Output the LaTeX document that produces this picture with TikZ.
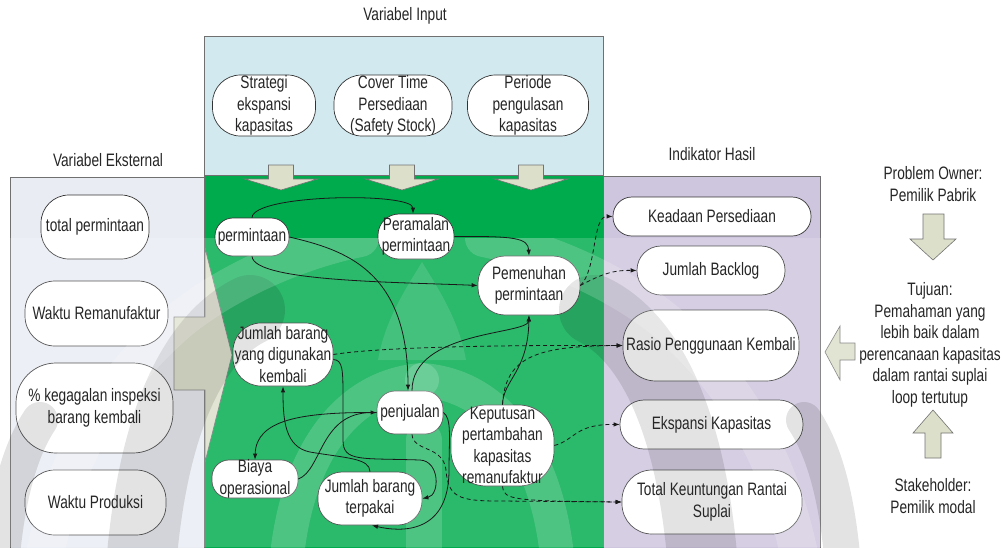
\documentclass[tikz,border=0pt]{standalone}
\usepackage{fontspec}
\setmainfont{Liberation Sans}[FakeStretch=0.76]
\usetikzlibrary{arrows.meta,calc}

\definecolor{inputbg}{HTML}{D2E9EF}
\definecolor{procbg}{HTML}{00AB4E}
\definecolor{extbg}{HTML}{E9ECF3}
\definecolor{outbg}{HTML}{CEC5DE}
\definecolor{blockfill}{HTML}{DCDFC9}
\definecolor{framegray}{HTML}{707070}

\tikzset{
  panel/.style={draw=framegray, line width=0.8pt},
  blockarrow/.style={draw=black!55, fill=blockfill, line width=0.6pt, line join=miter},
  pill/.style={draw=black!80, fill=white, line width=0.7pt, inner sep=0pt},
  txt/.style={font=\fontsize{18}{21.5}\selectfont, align=center, inner sep=0pt, text=black!85},
  link/.style={line width=0.8pt, draw=black!90, -{Latex[length=6pt,width=4.5pt]}},
  dlink/.style={link, dash pattern=on 4pt off 3pt},
  shade band/.style={draw=black, draw opacity=0.11, line width=#1, line cap=round},
  light band/.style={draw=white, draw opacity=0.17, line width=#1, line cap=round},
}

% rounded box: name, x, y, width, height, corner radius
\newcommand\mkpill[6]{%
  \node[pill, minimum width=#4, minimum height=#5, rounded corners=#6] (#1) at (#2,#3) {};}

% one half of the background emblem (the other half is its mirror image)
\newcommand\emblemhalf{%
  \draw[shade band=70] (140,580) .. controls (150,430) and (190,340) .. (250,310);
  \draw[light band=38] (40,580) .. controls (60,460) and (110,380) .. (180,320)
    .. controls (230,280) and (300,250) .. (360,238);
  \draw[shade band=36] (0,580) .. controls (5,500) and (20,450) .. (40,420);
  \draw[light band=34] (285,580) .. controls (292,450) and (350,385) .. (422,380);
}

\begin{document}
\begin{tikzpicture}[x=1pt,y=-1pt]
\useasboundingbox (0,0) rectangle (1003,547);
\clip (0,0) rectangle (1003,547);
\fill[white] (0,0) rectangle (1003,547);

% panels
\draw[panel, fill=inputbg] (204,36) rectangle (603,175);
\draw[panel, fill=extbg] (10,177) rectangle (204,560);
\draw[panel, fill=outbg] (603,176) rectangle (820,560);
\draw[panel, fill=procbg] (204,175) rectangle (603,560);

% panel titles
\node[txt] (tin) at (405,16) {Variabel Input};
\node[txt] (tex) at (108,160) {Variabel Eksternal};
\node[txt] (tout) at (712,154) {Indikator Hasil};

% input variables
\mkpill{str}{264}{105.5}{103}{61}{28}
\mkpill{cov}{393}{105.5}{118}{61}{28}
\mkpill{per}{528}{105.5}{121}{61}{28}

% input arrows into the model
\foreach \cx in {281,402,531}{
  \draw[blockarrow] (\cx-12.5,165) -- (\cx+12.5,165) -- (\cx+12.5,179) -- (\cx+36.5,179)
    -- (\cx,190) -- (\cx-36.5,179) -- (\cx-12.5,179) -- cycle;
}

% external variables
\mkpill{tot}{95}{227}{108}{64}{28}
\mkpill{wrm}{96.5}{313.5}{143}{65}{30}
\mkpill{keg}{94.5}{408}{157}{90}{40}
\mkpill{wpr}{95.5}{502.5}{141}{65}{30}

% external arrow into the model
\draw[blockarrow] (174,317) -- (205,317) -- (205,248) -- (232,355) -- (205,462)
  -- (205,390) -- (174,390) -- cycle;

% result indicators
\mkpill{kea}{712}{216.5}{198}{39}{19}
\mkpill{jbl}{711}{270.5}{148}{49}{24}
\mkpill{ras}{711}{345.5}{176}{71}{33}
\mkpill{eks}{711.5}{424.5}{183}{49}{24}
\mkpill{tku}{712}{502}{180}{64}{30}

% model variables
\mkpill{prm}{252}{237}{74}{38}{18}
\mkpill{prl}{416}{236.5}{76}{45}{21}
\mkpill{pmn}{529}{285.5}{102}{59}{27}
\mkpill{jdk}{283}{354.5}{100}{63}{28}
\mkpill{pjl}{410}{412.5}{66}{43}{18}
\mkpill{kpt}{502.5}{445.5}{103}{81}{35}
\mkpill{bya}{255}{479}{86}{38}{17}
\mkpill{jbt}{370}{498.5}{104}{53}{24}

% stakeholder arrows
\draw[blockarrow] (923,214) -- (944,214) -- (944,239) -- (956,239) -- (933,260)
  -- (910,239) -- (923,239) -- cycle;
\draw[blockarrow] (855,343) -- (855,360) -- (840,360) -- (840,380) -- (825,352)
  -- (840,326) -- (840,343) -- cycle;
\draw[blockarrow] (925,458) -- (941,458) -- (941,433) -- (953,433) -- (933,410)
  -- (913,433) -- (925,433) -- cycle;

% faint background emblem over the lower part
\begin{scope}
  \clip (0,238) rectangle (870,547);
  \fill[white, opacity=0.17] (0,238) rectangle (1003,547);
  \emblemhalf
  \begin{scope}[xshift=844pt, xscale=-1]
    \emblemhalf
  \end{scope}
  \fill[white, opacity=0.12] (422,262) .. controls (405,290) and (385,320) .. (378,360)
    -- (466,360) .. controls (459,320) and (439,290) .. (422,262) -- cycle;
  \draw[light band=36] (424,440) -- (424,580);
\end{scope}

% box texts
\node[txt] at (str) {Strategi\\ekspansi\\kapasitas};
\node[txt] at (cov) {Cover Time\\Persediaan\\(Safety Stock)};
\node[txt] at (per) {Periode\\pengulasan\\kapasitas};
\node[txt] at (tot) {total permintaan};
\node[txt] at (wrm) {Waktu Remanufaktur};
\node[txt] at (keg) {\% kegagalan inspeksi\\barang kembali};
\node[txt] at (wpr) {Waktu Produksi};
\node[txt] at (kea) {Keadaan Persediaan};
\node[txt] at (jbl) {Jumlah Backlog};
\node[txt] at (ras) {Rasio Penggunaan Kembali};
\node[txt] at (eks) {Ekspansi Kapasitas};
\node[txt] at (tku) {Total Keuntungan Rantai\\Suplai};
\node[txt] at (prm) {permintaan};
\node[txt] at (prl) {Peramalan\\permintaan};
\node[txt] at (pmn) {Pemenuhan\\permintaan};
\node[txt] at (jdk) {Jumlah barang\\yang digunakan\\kembali};
\node[txt] at (pjl) {penjualan};
\node[txt] at (kpt) {Keputusan\\pertambahan\\kapasitas\\remanufaktur};
\node[txt] at (bya) {Biaya\\operasional};
\node[txt] at (jbt) {Jumlah barang\\terpakai};

% causal links
\draw[link] (prm.north) .. controls (253,194) and (413,192) .. ([xshift=-3pt]prl.north);
\draw[link] (prm.south) .. controls (254,282) and (400,282) .. (pmn.west);
\draw[link] (prl.east) .. controls (515,236) and (528,238) .. (pmn.north);
\draw[link] (prm.east) .. controls (345,250) and (408,270) .. ([xshift=-2pt]pjl.north);
\draw[link] ([xshift=2pt]pjl.north) .. controls (412,330) and (528,335) .. (pmn.south);
\draw[link] (kpt.north) .. controls (503,380) and (528,372) .. (pmn.south);
\draw[link] ([yshift=-5pt]jdk.east) .. controls (343,360) and (343,370) .. (343,400)
  -- (343,440) .. controls (343,462) and (360,458) .. (420,460)
  .. controls (440,461) and (440,495) .. (jbt.east);
\draw[link] (jbt.north) .. controls (370,458) and (345,458) .. (310,452)
  .. controls (285,447) and (283,420) .. (jdk.south);
\draw[link] (pjl.east) .. controls (452,418) and (449,440) .. (449,470)
  .. controls (449,535) and (400,532) .. ([xshift=2pt]jbt.south);
\draw[link] (bya.east) .. controls (322,470) and (320,413) .. (pjl.west);
\draw[link] (pjl.west) .. controls (300,412) and (256,420) .. (bya.north);

% links to the indicators
\draw[dlink] (jdk.east) .. controls (380,347) and (500,345) .. (ras.west);
\draw[dlink] (kpt.north) .. controls (505,355) and (540,346) .. (ras.west);
\draw[dlink] (pmn.east) .. controls (597,270) and (592,216) .. (kea.west);
\draw[dlink] (pmn.east) .. controls (600,275) and (612,270) .. (jbl.west);
\draw[dlink] (kpt.east) .. controls (575,440) and (575,424) .. (eks.west);
\draw[dlink] ([xshift=2pt]pjl.south) .. controls (413,452) and (443,445) .. (446,470)
  .. controls (448,498) and (460,501) .. (500,501) -- (tku.west);
\draw[dlink] (kpt.south) .. controls (503,500) and (515,501) .. (tku.west);

% stakeholders and goal
\node[txt] (own) at (933,184) {Problem Owner:\\Pemilik Pabrik};
\node[txt] (goal) at (930,345) {Tujuan:\\Pemahaman yang\\lebih baik dalam\\perencanaan kapasitas\\dalam rantai suplai\\loop tertutup};
\node[txt] (stk) at (933,496) {Stakeholder:\\Pemilik modal};
\end{tikzpicture}
\end{document}
